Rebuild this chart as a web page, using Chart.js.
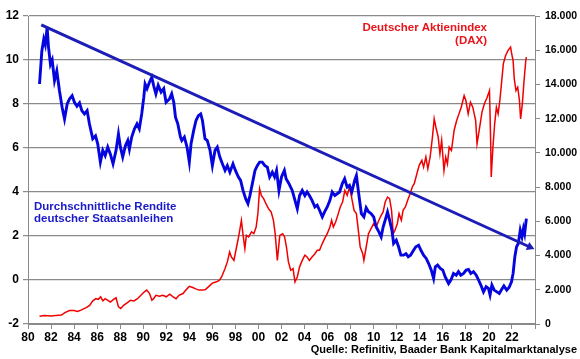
<!DOCTYPE html>
<html>
<head>
<meta charset="utf-8">
<script src="https://cdn.jsdelivr.net/npm/chart.js@4/dist/chart.umd.min.js"></script>
<style>
html,body{margin:0;padding:0;background:#fff;}
#wrap{width:580px;height:359px;}
</style>
</head>
<body>
<div id="wrap"><canvas id="c" width="580" height="359"></canvas></div>
<script>
// Durchschnittliche Rendite deutscher Staatsanleihen (%), left axis
const bondYears = [1981.00,1981.20,1981.37,1981.50,1981.66,1981.78,1981.95,1982.10,1982.30,1982.50,1982.73,1982.96,1983.17,1983.40,1983.60,1983.83,1984.03,1984.25,1984.47,1984.67,1984.90,1985.13,1985.33,1985.62,1985.86,1986.05,1986.28,1986.49,1986.70,1986.92,1987.15,1987.38,1987.64,1987.85,1988.02,1988.22,1988.45,1988.66,1988.80,1989.00,1989.24,1989.46,1989.66,1989.87,1990.05,1990.16,1990.33,1990.54,1990.74,1990.90,1991.10,1991.30,1991.55,1991.78,1991.98,1992.28,1992.47,1992.65,1992.80,1993.00,1993.23,1993.35,1993.57,1993.80,1994.00,1994.15,1994.38,1994.58,1994.79,1994.99,1995.14,1995.36,1995.56,1995.80,1996.00,1996.23,1996.43,1996.64,1996.87,1997.10,1997.30,1997.52,1997.79,1998.00,1998.26,1998.45,1998.66,1998.89,1999.09,1999.26,1999.47,1999.70,1999.90,2000.10,2000.33,2000.56,2000.77,2000.97,2001.20,2001.40,2001.57,2001.78,2002.00,2002.25,2002.40,2002.65,2002.93,2003.17,2003.37,2003.57,2003.80,2004.03,2004.22,2004.42,2004.65,2004.90,2005.10,2005.30,2005.54,2005.74,2005.97,2006.20,2006.40,2006.63,2006.83,2007.04,2007.28,2007.48,2007.70,2007.90,2008.10,2008.35,2008.50,2008.70,2008.93,2009.15,2009.35,2009.55,2009.77,2010.00,2010.22,2010.45,2010.65,2010.82,2011.00,2011.20,2011.38,2011.58,2011.73,2011.96,2012.16,2012.36,2012.60,2012.80,2013.00,2013.20,2013.46,2013.66,2013.90,2014.10,2014.33,2014.56,2014.77,2015.00,2015.20,2015.35,2015.55,2015.78,2016.00,2016.20,2016.50,2016.70,2016.93,2017.16,2017.36,2017.56,2017.80,2018.03,2018.23,2018.43,2018.66,2018.90,2019.10,2019.30,2019.53,2019.76,2019.96,2020.10,2020.26,2020.46,2020.69,2020.90,2021.10,2021.30,2021.55,2021.76,2021.96,2022.10,2022.25,2022.40,2022.55,2022.72,2022.87,2023.00,2023.10,2023.25];
const bondYield = [8.91,10.4,10.95,10.7,11.48,10.58,9.8,10.0,9.06,9.5,8.6,7.85,7.32,8.0,8.23,8.38,8.08,7.9,8.05,7.7,7.55,7.7,7.1,6.42,6.55,6.19,5.36,5.89,5.65,6.04,5.72,5.28,5.89,6.64,6.04,5.59,6.1,6.34,5.95,6.5,6.87,7.1,6.87,7.55,8.31,8.91,8.7,8.99,9.22,8.85,8.46,8.85,8.54,8.7,8.08,8.23,8.46,8.08,7.4,7.1,6.5,6.34,6.5,6.04,5.36,6.19,6.8,7.25,7.47,7.55,7.25,6.42,6.34,5.89,5.2,5.89,6.04,5.6,5.28,4.98,5.2,4.9,5.28,4.98,4.68,4.53,4.07,3.7,3.47,3.84,4.38,4.98,5.2,5.36,5.36,5.2,5.13,4.68,4.9,4.68,4.98,4.07,4.68,4.98,4.6,4.38,4.07,3.62,3.24,3.84,4.07,3.84,4.0,3.84,3.62,3.32,3.4,3.17,2.87,3.1,3.32,3.62,4.0,3.84,3.92,4.0,4.38,4.6,4.22,4.3,4.0,4.53,4.75,3.92,3.02,2.87,3.28,3.1,3.02,2.87,2.41,2.19,1.96,2.41,2.72,3.09,2.72,2.27,1.66,1.81,1.51,1.13,1.13,1.2,1.06,1.13,1.35,1.51,1.58,1.35,1.13,0.98,0.75,0.45,0.07,0.6,0.68,0.53,0.45,0.15,-0.16,0.0,0.3,0.22,0.38,0.22,0.3,0.45,0.48,0.3,0.38,0.22,0.0,-0.23,-0.54,-0.3,-0.38,-0.68,-0.23,-0.46,-0.54,-0.61,-0.43,-0.27,-0.46,-0.33,-0.08,0.3,1.06,1.51,1.66,2.26,1.96,2.34,2.11,2.79];

// Deutscher Aktienindex (DAX), right axis
const daxYears = [1981.00,1981.40,1982.00,1982.40,1982.90,1983.20,1983.60,1984.00,1984.30,1984.60,1985.05,1985.35,1985.62,1985.90,1986.10,1986.30,1986.50,1986.70,1986.90,1987.15,1987.40,1987.64,1987.85,1988.05,1988.30,1988.60,1988.90,1989.20,1989.50,1989.80,1990.10,1990.30,1990.55,1990.75,1990.90,1991.10,1991.40,1991.70,1992.00,1992.30,1992.60,1992.85,1993.10,1993.45,1993.70,1994.00,1994.30,1994.55,1994.85,1995.15,1995.40,1995.70,1996.00,1996.30,1996.60,1996.80,1997.10,1997.30,1997.50,1997.65,1997.87,1998.10,1998.30,1998.52,1998.65,1998.82,1998.95,1999.15,1999.40,1999.60,1999.80,1999.95,2000.10,2000.25,2000.45,2000.65,2000.87,2001.10,2001.30,2001.45,2001.64,2001.85,2002.10,2002.27,2002.43,2002.60,2002.80,2003.00,2003.17,2003.37,2003.57,2003.80,2004.03,2004.22,2004.42,2004.65,2004.90,2005.10,2005.30,2005.54,2005.74,2005.97,2006.20,2006.35,2006.50,2006.70,2006.93,2007.10,2007.30,2007.50,2007.70,2007.90,2008.05,2008.30,2008.50,2008.70,2008.83,2009.05,2009.15,2009.35,2009.55,2009.77,2010.00,2010.22,2010.45,2010.65,2010.82,2011.00,2011.20,2011.38,2011.55,2011.70,2011.85,2012.05,2012.20,2012.40,2012.55,2012.75,2012.95,2013.17,2013.35,2013.52,2013.75,2013.95,2014.18,2014.33,2014.53,2014.70,2014.90,2015.10,2015.25,2015.40,2015.60,2015.75,2015.90,2016.10,2016.25,2016.40,2016.55,2016.75,2016.98,2017.20,2017.40,2017.60,2017.85,2018.00,2018.20,2018.40,2018.60,2018.85,2018.97,2019.20,2019.40,2019.60,2019.85,2020.05,2020.15,2020.20,2020.35,2020.50,2020.65,2020.80,2020.95,2021.10,2021.25,2021.45,2021.65,2021.88,2021.98,2022.10,2022.20,2022.35,2022.50,2022.65,2022.75,2022.90,2023.05,2023.20,2023.25];
const daxValues = [455,490,470,500,520,670,790,790,730,810,960,1090,1350,1480,1440,1590,1350,1480,1390,1280,1420,1530,1000,900,1090,1230,1390,1350,1480,1680,1880,1980,1780,1390,1480,1680,1620,1680,1590,1740,1590,1480,1680,1780,1980,2200,2130,2050,1980,1980,2010,2200,2390,2450,2550,2750,3240,3630,4210,3920,3720,4500,5180,6060,5280,4410,5180,5090,5380,5280,5670,6450,7910,7520,7330,7030,6740,6550,6060,5280,3720,5180,5280,5090,4500,3630,3140,3240,2460,2750,3340,3720,4020,3920,3720,3920,4110,4310,4310,4700,4990,5280,5670,6060,5670,5960,6450,6840,7130,7810,7520,8010,7520,6640,6450,5280,4500,4110,3720,4500,5280,5570,5860,5670,6060,6350,6550,7130,7420,7330,6640,5280,5480,5860,6450,6060,6640,6840,7230,7620,8010,8200,8780,9270,9560,9170,9760,9070,9760,10920,11990,11500,10920,9950,10730,8970,9760,9360,10340,10140,11310,11890,12280,12670,13350,13060,12280,12960,12670,11890,10530,11500,12380,12860,13250,13640,10730,8590,10340,11700,12670,12280,13060,14120,15200,15690,15980,16180,15790,15400,14330,13640,13840,13060,11990,12860,14220,15400,15590];

// Trendlinie der Rendite (left axis)
const trendYears = [1981.15, 2023.55];
const trendValues = [11.6, 1.5];

// Axis ticks
const yearTicks = [1980,1982,1984,1986,1988,1990,1992,1994,1996,1998,2000,2002,2004,2006,2008,2010,2012,2014,2016,2018,2020,2022];
const leftTicks = [-2,0,2,4,6,8,10,12];
const rightTicks = [0,2000,4000,6000,8000,10000,12000,14000,16000,18000];

const zip = (xs, ys) => xs.map((x, i) => ({x: x, y: ys[i]}));
const FONT = "'Liberation Sans', Arial, sans-serif";
const GRID = '#8a8a8a';

const textPlugin = {
  id: 'texts',
  afterDraw(chart) {
    const ctx = chart.ctx;
    ctx.save();
    ctx.textBaseline = 'middle';
    ctx.font = 'bold 11.5px ' + FONT;
    ctx.fillStyle = '#e8141b';
    ctx.textAlign = 'right';
    ctx.fillText('Deutscher Aktienindex', 487, 28);
    ctx.fillText('(DAX)', 487, 41);
    ctx.fillStyle = '#1a1ac8';
    ctx.textAlign = 'left';
    ctx.fillText('Durchschnittliche Rendite', 34, 207);
    ctx.fillText('deutscher Staatsanleihen', 34, 219);
    ctx.font = 'bold 11px ' + FONT;
    ctx.fillStyle = '#000';
    ctx.textAlign = 'right';
    ctx.fillText('Quelle: Refinitiv, Baader Bank Kapitalmarktanalyse', 577, 350);
    ctx.restore();
  }
};

new Chart(document.getElementById('c'), {
  type: 'line',
  data: {
    datasets: [
      {
        label: 'Trend',
        data: zip(trendYears, trendValues),
        yAxisID: 'y',
        borderColor: '#1c1cb8',
        backgroundColor: '#1c1cb8',
        borderWidth: 3,
        pointRadius: [0, 5],
        pointStyle: 'triangle',
        pointRotation: 114,
        pointBorderWidth: 0,
        tension: 0
      },
      {
        label: 'Rendite',
        data: zip(bondYears, bondYield),
        yAxisID: 'y',
        borderColor: '#0505e0',
        borderWidth: 2.9,
        pointRadius: 0,
        tension: 0
      },
      {
        label: 'DAX',
        data: zip(daxYears, daxValues),
        yAxisID: 'y2',
        borderColor: '#f00000',
        borderWidth: 1.5,
        pointRadius: 0,
        tension: 0
      }
    ]
  },
  options: {
    responsive: false,
    animation: false,
    layout: {padding: {top: 16, left: 0, right: 0, bottom: 0}},
    plugins: {legend: {display: false}, tooltip: {enabled: false}},
    scales: {
      x: {
        type: 'linear',
        min: 1980,
        max: 2024,
        afterBuildTicks: s => { s.ticks = yearTicks.concat([2024]).map(v => ({value: v})); },
        afterFit: s => { s.height = 35; },
        ticks: {
          autoSkip: false,
          maxRotation: 0,
          padding: 1,
          color: '#000',
          font: {family: FONT, size: 12, weight: 'bold'},
          callback: v => (v === 2024 ? '' : String(v % 100).padStart(2, '0'))
        },
        grid: {drawOnChartArea: false, drawTicks: true, tickLength: 5, color: GRID},
        border: {display: true, color: GRID, width: 1}
      },
      y: {
        position: 'left',
        min: -2,
        max: 12,
        afterBuildTicks: s => { s.ticks = leftTicks.map(v => ({value: v})); },
        afterFit: s => { s.width = 28; },
        ticks: {
          padding: 4,
          color: '#000',
          font: {family: FONT, size: 12, weight: 'bold'},
          callback: v => String(v)
        },
        grid: {color: GRID, lineWidth: 1.2, tickLength: 5},
        border: {display: true, color: GRID, width: 1}
      },
      y2: {
        position: 'right',
        min: 0,
        max: 18000,
        afterBuildTicks: s => { s.ticks = rightTicks.map(v => ({value: v})); },
        afterFit: s => { s.width = 45; },
        ticks: {
          padding: 5,
          color: '#000',
          font: {family: FONT, size: 10.5, weight: 'bold'},
          callback: v => (v === 0 ? '0' : (v / 1000).toFixed(3))
        },
        grid: {drawOnChartArea: false, drawTicks: true, tickLength: 5, color: GRID},
        border: {display: true, color: GRID, width: 1}
      }
    }
  },
  plugins: [textPlugin]
});
</script>
</body>
</html>
